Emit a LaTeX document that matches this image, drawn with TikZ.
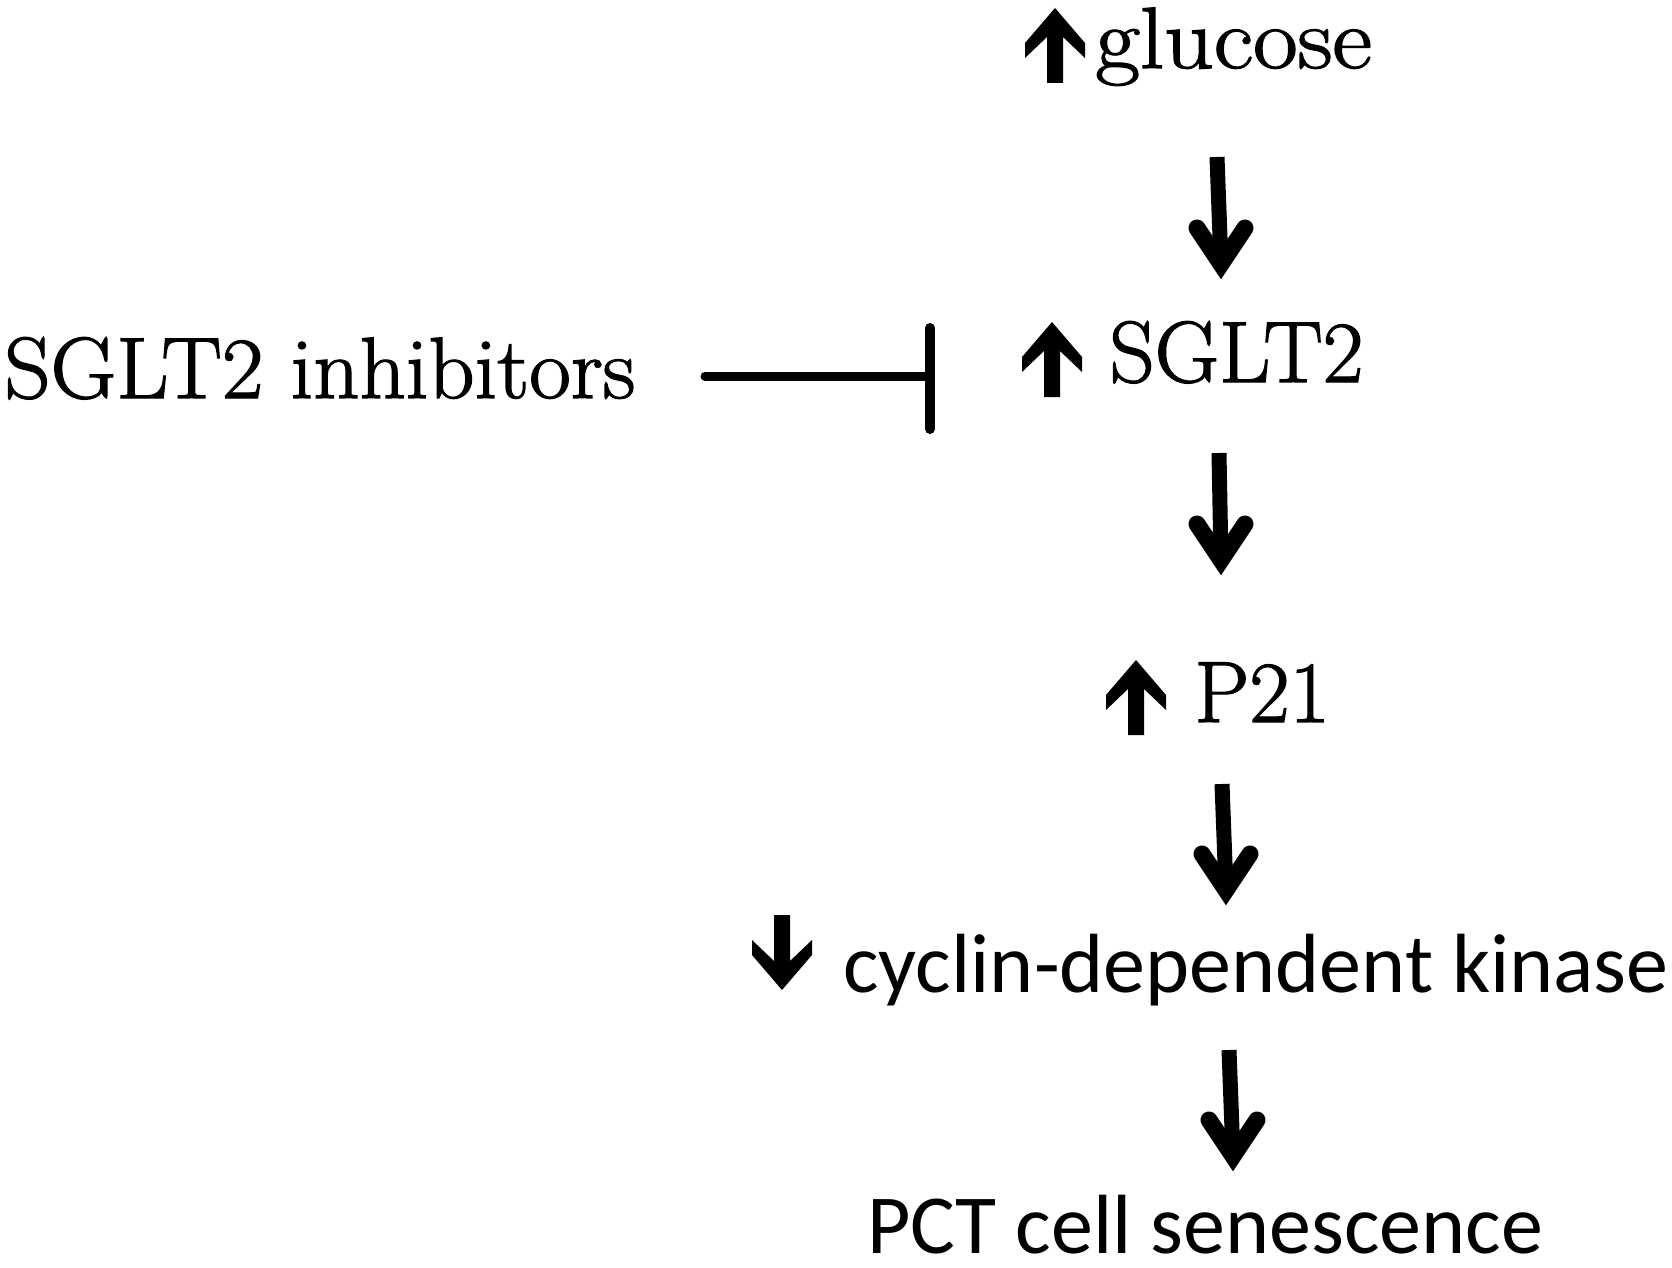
\documentclass[tikz,border=0pt]{standalone}
\usepackage{fontspec}
\newfontfamily\calib{Carlito}
\newfontfamily\antiq{Latin Modern Roman}[FakeBold=1.5]
\usetikzlibrary{calc}
\tikzset{
  serif/.style={anchor=base west, inner sep=0pt, font=\antiq\fontsize{43.5}{50}\selectfont},
  sans/.style={anchor=base west, inner sep=0pt, font=\calib\fontsize{42}{50}\selectfont},
  shaft/.style={line width=7.5pt, line cap=butt},
  headstyle/.style={line width=8.5pt, line cap=round, line join=miter},
  inhib/.style={line width=4.5pt, line cap=round},
  inhibbar/.style={line width=5pt, line cap=round},
  blockup/.pic={\fill (0,0) -- (30,35) -- (30,50) -- (8,29) -- (8,75) -- (-8,75) -- (-8,29) -- (-30,50) -- (-30,35) -- cycle;}
}
\newcommand\flowarrow[2]{%
  \draw[shaft] (#1) -- ($(#2)+(0,-16)$);
  \draw[headstyle] ($(#2)+(-24,-52)$) -- ($(#2)+(0,-16)$) -- ($(#2)+(24,-52)$);}
\begin{document}
\begin{tikzpicture}[x=0.5pt,y=-0.5pt]
\useasboundingbox[fill=white] (0,0) rectangle (1672,1268);
% text nodes
\node[serif] (glucose) at (1095,68) {\scalebox{1.115}[1]{glucose}};
\node[serif] (sglt) at (1109,382) {\scalebox{1.02}[1]{SGLT2}};
\node[serif] (inh) at (4,398) {\scalebox{1.04}[1]{SGLT2 inhibitors}};
\node[serif] (p21) at (1194,722) {\scalebox{1.006}[1]{P21}};
\node[sans] (cdk) at (843,992) {cyclin-dependent kinase};
\node[sans, text depth=0pt] (pct) at (867,1253) {PCT cell senescence};
% block arrows
\pic at (1055,8) {blockup};
\pic at (1052,322) {blockup};
\pic at (1136,660) {blockup};
\pic[yscale=-1] at (782,990) {blockup};
% flow arrows
\coordinate (a1s) at (1217,157); \coordinate (a1e) at (1221,280);
\coordinate (a2s) at (1219,453); \coordinate (a2e) at (1221,576);
\coordinate (a3s) at (1222,784); \coordinate (a3e) at (1226,906);
\coordinate (a4s) at (1229,1050); \coordinate (a4e) at (1233,1172);
\flowarrow{a1s}{a1e}
\flowarrow{a2s}{a2e}
\flowarrow{a3s}{a3e}
\flowarrow{a4s}{a4e}
% inhibition
\coordinate (ib0) at (705,376); \coordinate (ib1) at (930,376);
\coordinate (bt) at (930,328); \coordinate (bb) at (930,429);
\draw[inhib] (ib0) -- (ib1);
\draw[inhibbar] (bt) -- (bb);
\end{tikzpicture}
\end{document}
